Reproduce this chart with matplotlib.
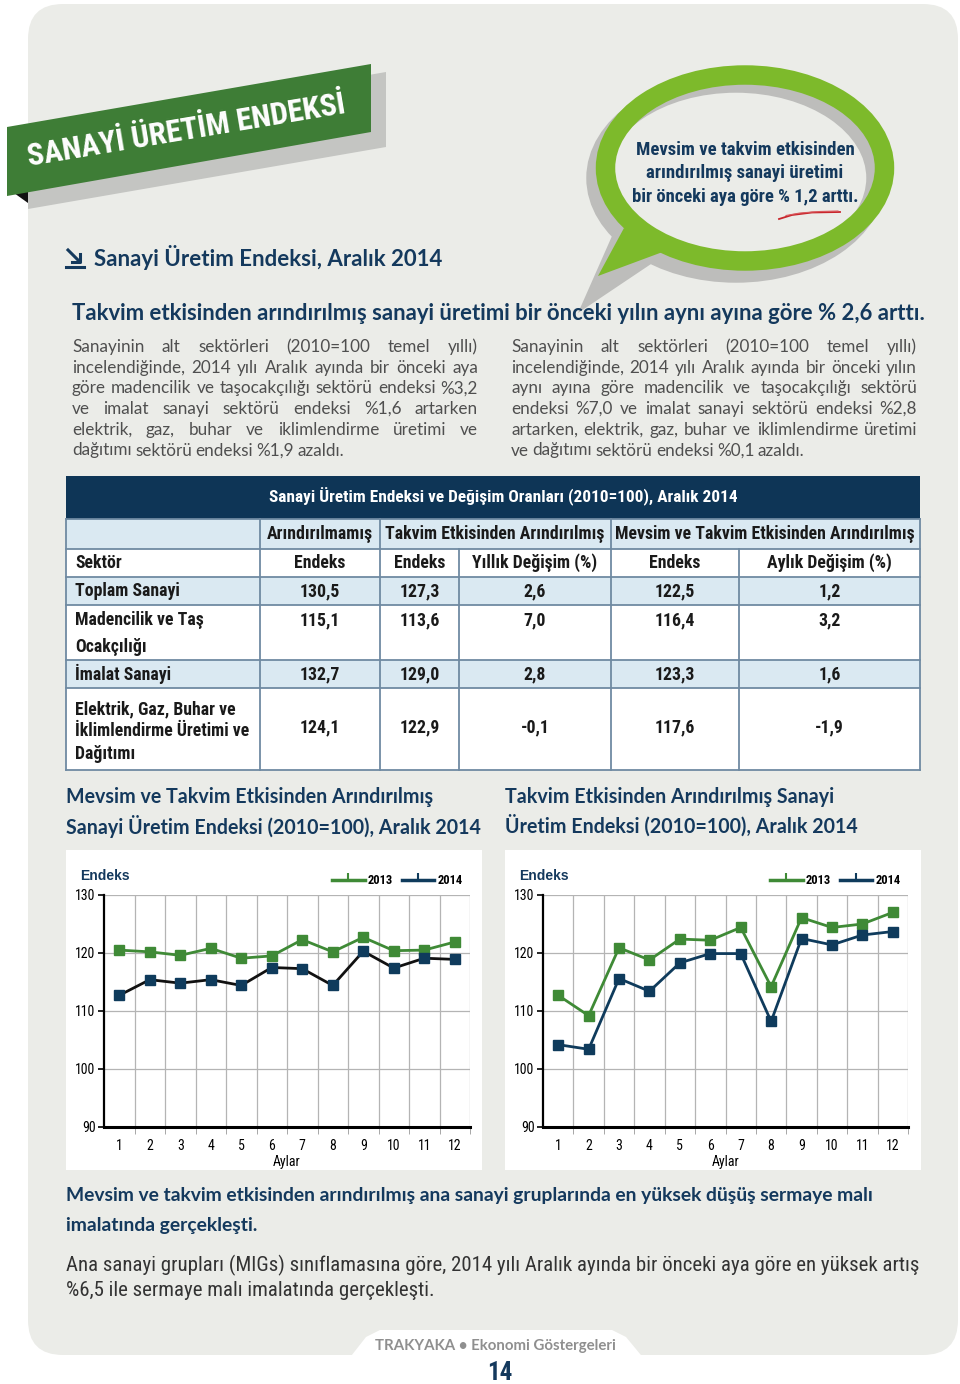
import matplotlib
matplotlib.use('Agg')
import matplotlib.pyplot as plt
import numpy as np
from matplotlib import font_manager
from matplotlib.patches import Rectangle, Polygon, Ellipse, FancyBboxPatch
from matplotlib.lines import Line2D

# chart data
months = list(range(1, 13))
mevsim_2013 = [120.5, 120.2, 119.6, 120.8, 119.1, 119.5, 122.3, 120.2, 122.7, 120.4, 120.5, 121.9]
mevsim_2014 = [112.7, 115.4, 114.8, 115.4, 114.4, 117.5, 117.3, 114.4, 120.3, 117.4, 119.1, 118.9]
takvim_2013 = [112.7, 109.2, 120.9, 118.8, 122.4, 122.2, 124.4, 114.2, 126.1, 124.4, 125.0, 127.0]
takvim_2014 = [104.2, 103.4, 115.6, 113.4, 118.3, 119.9, 119.9, 108.2, 122.5, 121.4, 123.1, 123.7]

# table data
sectors = [['Toplam Sanayi'], ['Madencilik ve Taş', 'Ocakçılığı'], ['İmalat Sanayi'],
           ['Elektrik, Gaz, Buhar ve', 'İklimlendirme Üretimi ve', 'Dağıtımı']]
arindirilmamis = ['130,5', '115,1', '132,7', '124,1']
takvim_endeks = ['127,3', '113,6', '129,0', '122,9']
yillik_degisim = ['2,6', '7,0', '2,8', '-0,1']
mevsim_endeks = ['122,5', '116,4', '123,3', '117,6']
aylik_degisim = ['1,2', '3,2', '1,6', '-1,9']

names = {f.name for f in font_manager.fontManager.ttflist}
NARROW = next((n for n in ['Liberation Sans Narrow', 'Roboto Condensed', 'Open Sans Condensed',
                           'Arial Narrow'] if n in names), 'Roboto')
SANS = 'Lato' if 'Lato' in names else 'DejaVu Sans'
ARIAL = 'Liberation Sans'

NAVY = '#14395d'
NAVY_M = '#0f3b5c'
GREEN_C = '#3f8a36'
BG = '#ebece8'
LBLUE = '#dae9f2'
GRID_T = '#6f8aa2'

fig = plt.figure(figsize=(9.6, 13.84), dpi=100)
pg = fig.add_axes([0, 0, 1, 1], zorder=0)
pg.set_xlim(0, 960)
pg.set_ylim(1384, 0)
pg.axis('off')
r = fig.canvas.get_renderer()


def fit(x, y, s, w, ha='left', va='center', fs0=12, **kw):
    t = pg.text(x, y, s, fontsize=fs0, ha=ha, va=va, **kw)
    t.set_fontsize(fs0 * w / t.get_window_extent(r).width)
    return t


def justify(lines, x0, x1, y0, dy, fs, **kw):
    for i, line in enumerate(lines):
        y = y0 + i * dy
        words = line.split(' ')
        ts = [pg.text(0, y, w, fontsize=fs, va='center', ha='left', **kw) for w in words]
        ws = [t.get_window_extent(r).width for t in ts]
        if i == len(lines) - 1:
            gap = fs * 100 / 72 * 0.2
        else:
            gap = (x1 - x0 - sum(ws)) / (len(words) - 1)
        x = x0
        for t, w in zip(ts, ws):
            t.set_x(x)
            x += w + gap


# page background
pg.add_patch(FancyBboxPatch((28, 4), 930, 1351, boxstyle='round,pad=0,rounding_size=35',
                            fc=BG, ec='none'))
pg.add_patch(Polygon([(348, 1360), (366, 1337), (380, 1330), (612, 1330), (626, 1337), (645, 1360)],
                     fc='white', ec='none'))

# banner
pg.add_patch(Polygon([(28, 134), (386, 72), (386, 147), (28, 209)], fc='#c4c5c2', ec='none'))
pg.add_patch(Polygon([(7, 188), (28, 184), (28, 203)], fc='#111111', ec='none'))
pg.add_patch(Polygon([(7, 127), (371, 64), (371, 132), (7, 196)], fc='#3e7d36', ec='none'))
bt = fit(186, 131, 'SANAYİ ÜRETİM ENDEKSİ', 322, ha='center', color='white',
         family=NARROW, weight='bold')
bt.set_rotation(9.5)
bt.set_rotation_mode('anchor')

# speech bubble
pg.add_patch(Ellipse((736, 178), 280, 190, fill=False, ec='#bdbdbb', lw=14))
pg.add_patch(Polygon([(612, 236), (578, 313), (660, 258)], fc='#bdbdbb', ec='none'))
pg.add_patch(Polygon([(624, 228), (598, 276), (668, 250)], fc='#7dba2b', ec='none'))
pg.add_patch(Ellipse((745, 168), 279, 186, fill=False, ec='#7dba2b', lw=14))
for yy, s, w in [(150, 'Mevsim ve takvim etkisinden', 218),
                 (173, 'arındırılmış sanayi üretimi', 198),
                 (197, 'bir önceki aya göre % 1,2 arttı.', 228)]:
    fit(745, yy, s, w, ha='center', color=NAVY, family=NARROW, weight='bold')
pg.plot([779, 792, 812, 840], [219, 215, 212.5, 212], color='#c8262c', lw=1.3)
pg.plot([786, 800, 820, 838], [215.5, 213, 211.5, 211], color='#d9585c', lw=0.8)

# section header with arrow icon
pg.plot([68, 79], [250, 261], color=NAVY, lw=2.2)
pg.plot([72, 80, 80], [262, 262, 254], color=NAVY, lw=2.2)
pg.plot([66, 84], [267, 267], color=NAVY, lw=2.2)
fit(94, 257, 'Sanayi Üretim Endeksi, Aralık 2014', 346, color=NAVY, family=SANS, weight='bold')
fit(72, 314, 'Takvim etkisinden arındırılmış sanayi üretimi bir önceki yılın aynı ayına göre % 2,6 arttı.',
    848, color=NAVY, family=SANS, weight='bold')

# paragraphs
probe = pg.text(0, 0, 'göre madencilik ve taşocakçılığı sektörü endeksi %3,2', fontsize=12, family=SANS)
pfs = 12 * 400 / probe.get_window_extent(r).width
probe.remove()
par1 = ['Sanayinin alt sektörleri (2010=100 temel yıllı)',
        'incelendiğinde, 2014 yılı Aralık ayında bir önceki aya',
        'göre madencilik ve taşocakçılığı sektörü endeksi %3,2',
        've imalat sanayi sektörü endeksi %1,6 artarken',
        'elektrik, gaz, buhar ve iklimlendirme üretimi ve',
        'dağıtımı sektörü endeksi %1,9 azaldı.']
par2 = ['Sanayinin alt sektörleri (2010=100 temel yıllı)',
        'incelendiğinde, 2014 yılı Aralık ayında bir önceki yılın',
        'aynı ayına göre madencilik ve taşocakçılığı sektörü',
        'endeksi %7,0 ve imalat sanayi sektörü endeksi %2,8',
        'artarken, elektrik, gaz, buhar ve iklimlendirme üretimi',
        've dağıtımı sektörü endeksi %0,1 azaldı.']
justify(par1, 72, 478, 347, 20.7, pfs, color='#4f4f4f', family=SANS)
justify(par2, 511, 917, 347, 20.7, pfs, color='#4f4f4f', family=SANS)

# table
cols = [66, 260, 380, 459, 611, 739, 920]
rows = [476, 519, 549, 577, 605, 660, 688, 770]
fills = ['#0e3556', LBLUE, 'white', LBLUE, 'white', LBLUE, 'white']
for i, fc in enumerate(fills):
    pg.add_patch(Rectangle((cols[0], rows[i]), cols[-1] - cols[0], rows[i + 1] - rows[i], fc=fc, ec='none'))
for yb in rows[1:]:
    pg.plot([cols[0], cols[-1]], [yb, yb], color=GRID_T, lw=1.3)
for xb in [66, 920]:
    pg.plot([xb, xb], [rows[1], rows[-1]], color=GRID_T, lw=1.3)
for xb in [260, 380, 611]:
    pg.plot([xb, xb], [rows[1], rows[2]], color=GRID_T, lw=1.3)
for xb in cols[1:-1]:
    pg.plot([xb, xb], [rows[2], rows[-1]], color=GRID_T, lw=1.3)

fit(503, 497, 'Sanayi Üretim Endeksi ve Değişim Oranları (2010=100), Aralık 2014', 469, ha='center',
    color='white', family=NARROW, weight='bold')
probe = pg.text(0, 0, 'Mevsim ve Takvim Etkisinden Arındırılmış', fontsize=12, family=NARROW, weight='bold')
tfs = 12 * 300 / probe.get_window_extent(r).width
probe.remove()
tk = dict(fontsize=tfs, family=NARROW, weight='bold', color='#1a1a1a', va='center')
pg.text(320, 534, 'Arındırılmamış', ha='center', **tk)
pg.text(495, 534, 'Takvim Etkisinden Arındırılmış', ha='center', **tk)
pg.text(765, 534, 'Mevsim ve Takvim Etkisinden Arındırılmış', ha='center', **tk)
centers = [(a + b) / 2 for a, b in zip(cols[1:-1], cols[2:])]
pg.text(75, 563, 'Sektör', ha='left', **tk)
for cx, s in zip(centers, ['Endeks', 'Endeks', 'Yıllık Değişim (%)', 'Endeks', 'Aylık Değişim (%)']):
    pg.text(cx, 563, s, ha='center', **tk)
row_lines = [[591], [620, 647], [674], [709, 731, 754]]
value_y = [591, 620, 674, 727]
for i, sec in enumerate(sectors):
    for yy, s in zip(row_lines[i], sec):
        pg.text(75, yy, s, ha='left', **tk)
    vals = [arindirilmamis[i], takvim_endeks[i], yillik_degisim[i], mevsim_endeks[i], aylik_degisim[i]]
    for cx, v in zip(centers, vals):
        pg.text(cx, value_y[i], v, ha='center', **tk)

# chart titles
probe = pg.text(0, 0, 'Sanayi Üretim Endeksi (2010=100), Aralık 2014', fontsize=12, family=SANS, weight='bold')
cfs = 12 * 411 / probe.get_window_extent(r).width
probe.remove()
ck = dict(fontsize=cfs, family=SANS, weight='bold', color=NAVY, va='center', ha='left')
pg.text(66, 797, 'Mevsim ve Takvim Etkisinden Arındırılmış', **ck)
pg.text(66, 826, 'Sanayi Üretim Endeksi (2010=100), Aralık 2014', **ck)
pg.text(505, 797, 'Takvim Etkisinden Arındırılmış Sanayi', **ck)
pg.text(505, 826, 'Üretim Endeksi (2010=100), Aralık 2014', **ck)

# chart panels
for x0 in [66, 505]:
    pg.add_patch(Rectangle((x0, 850), 416, 320, fc='white', ec='none'))
    pg.text(x0 + 14, 876, 'Endeks', fontsize=10, family=ARIAL, weight='bold', color=NAVY,
            va='center', ha='left')


def draw_chart(ax, y13, y14, line14):
    ax.plot(months, y13, color=GREEN_C, lw=2.0, marker='s', ms=7, mfc=GREEN_C, mec=GREEN_C,
            label='2013', zorder=3, clip_on=False)
    ax.plot(months, y14, color=line14, lw=2.0, marker='s', ms=7, mfc=NAVY_M, mec=NAVY_M,
            label='2014', zorder=3, clip_on=False)
    ax.set_xlim(0.5, 12.5)
    ax.set_ylim(90, 130)
    ax.set_xticks(months)
    ax.set_xticks(np.arange(1.5, 12.6, 1), minor=True)
    ax.set_yticks([90, 100, 110, 120, 130])
    ax.grid(which='minor', axis='x', color='#b4b4b4', lw=0.9)
    ax.grid(which='major', axis='y', color='#b4b4b4', lw=0.9)
    ax.set_axisbelow(True)
    ax.tick_params(axis='x', which='major', length=0, pad=9, labelsize=10)
    ax.tick_params(axis='x', which='minor', length=5, color='#999999')
    ax.tick_params(axis='y', length=4, width=1.2, pad=2, labelsize=10)
    for lab in ax.get_xticklabels() + ax.get_yticklabels():
        lab.set_family(NARROW)
    for s in ['top', 'right']:
        ax.spines[s].set_visible(False)
    ax.spines['left'].set_linewidth(1.6)
    ax.spines['bottom'].set_linewidth(2.2)
    ax.set_xlabel('Aylar', fontsize=10, family=NARROW, labelpad=1)
    handles = [Line2D([], [], color=GREEN_C, lw=2.5, marker=2, ms=5, mew=1.5),
               Line2D([], [], color=NAVY_M, lw=2.5, marker=2, ms=5, mew=1.5)]
    ax.legend(handles, ['2013', '2014'], loc='lower right', bbox_to_anchor=(1.0, 1.0), ncol=2,
              frameon=False, borderaxespad=0.2, handlelength=2.6, handletextpad=0.25,
              columnspacing=0.7, prop=dict(family=NARROW, weight='bold', size=9))


H = 1384.0
ax1 = fig.add_axes([104 / 960, 1 - 1127 / H, 366 / 960, 232 / H], zorder=2)
ax2 = fig.add_axes([543 / 960, 1 - 1127 / H, 365 / 960, 232 / H], zorder=2)
draw_chart(ax1, mevsim_2013, mevsim_2014, '#111111')
draw_chart(ax2, takvim_2013, takvim_2014, NAVY_M)

# bottom text
probe = pg.text(0, 0, 'Mevsim ve takvim etkisinden arındırılmış ana sanayi gruplarında en yüksek düşüş sermaye malı',
                fontsize=12, family=SANS, weight='bold')
hfs = 12 * 803 / probe.get_window_extent(r).width
probe.remove()
pg.text(66, 1196, 'Mevsim ve takvim etkisinden arındırılmış ana sanayi gruplarında en yüksek düşüş sermaye malı',
        fontsize=hfs, family=SANS, weight='bold', color=NAVY, va='center')
pg.text(66, 1226, 'imalatında gerçekleşti.', fontsize=hfs, family=SANS, weight='bold', color=NAVY, va='center')
probe = pg.text(0, 0, 'Ana sanayi grupları (MIGs) sınıflamasına göre, 2014 yılı Aralık ayında bir önceki aya göre en yüksek artış',
                fontsize=12, family=NARROW)
bfs = 12 * 851 / probe.get_window_extent(r).width
probe.remove()
pg.text(66, 1265, 'Ana sanayi grupları (MIGs) sınıflamasına göre, 2014 yılı Aralık ayında bir önceki aya göre en yüksek artış',
        fontsize=bfs, family=NARROW, color='#333333', va='center')
pg.text(66, 1291, '%6,5 ile sermaye malı imalatında gerçekleşti.', fontsize=bfs, family=NARROW,
        color='#333333', va='center')

# footer
fit(495, 1346, 'TRAKYAKA • Ekonomi Göstergeleri', 240, ha='center', color='#8f8f8f', family=SANS, weight='bold')
pg.text(500, 1373, '14', fontsize=18, family=NARROW, weight='bold', color=NAVY, ha='center', va='center')

fig.savefig('out.png', dpi=100)
